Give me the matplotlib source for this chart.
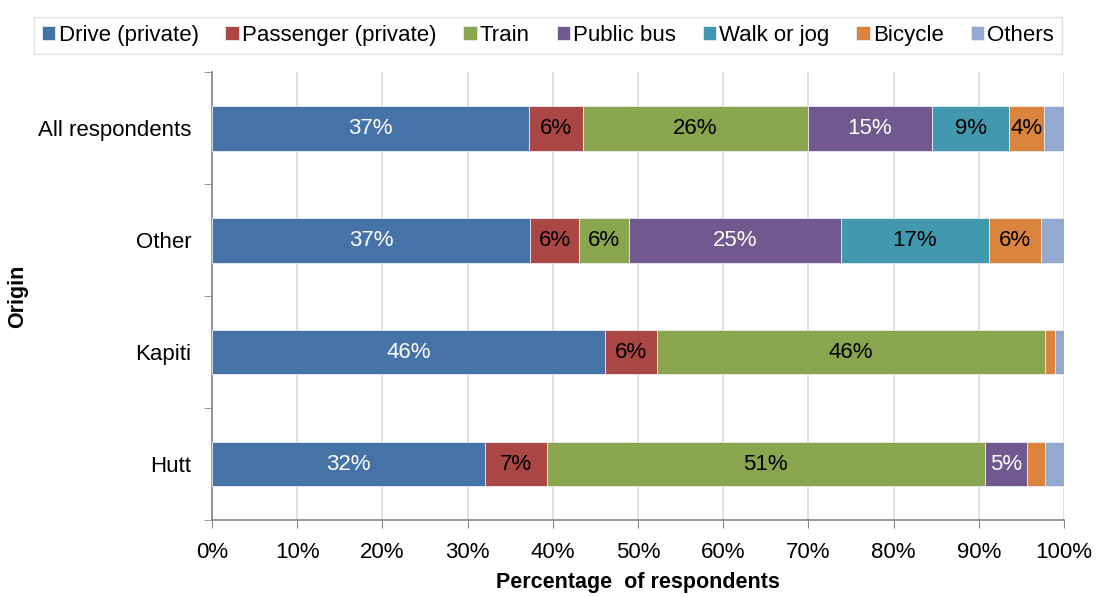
import matplotlib.pyplot as plt
import numpy as np

plt.rcParams['font.family'] = ['Liberation Sans', 'DejaVu Sans']

# Data (percent of respondents)
origins = ["All respondents", "Other", "Kapiti", "Hutt"]
modes = ["Drive (private)", "Passenger (private)", "Train", "Public bus",
         "Walk or jog", "Bicycle", "Others"]
drive = [37.2, 37.3, 46.1, 32.1]
passenger = [6.3, 5.8, 6.1, 7.2]
train = [26.4, 5.8, 45.6, 51.4]
bus = [14.6, 24.9, 0.0, 4.9]
walk = [9.1, 17.4, 0.0, 0.0]
bicycle = [4.1, 6.1, 1.1, 2.2]
others = [2.3, 2.7, 1.1, 2.2]

series = [drive, passenger, train, bus, walk, bicycle, others]
colors = ["#4572A7", "#AA4643", "#89A54E", "#71588F", "#4198AF", "#DB843D", "#93A9CF"]
label_colors = ["white", "black", "black", "white", "black", "black", "black"]

fig = plt.figure(figsize=(10.96, 5.97), dpi=100)
ax = fig.add_axes([0.1934, 0.129, 0.7774, 0.75])

y = np.arange(len(origins))
left = np.zeros(len(origins))
for name, vals, col, lc in zip(modes, series, colors, label_colors):
    vals = np.array(vals)
    ax.barh(y, vals, left=left, height=0.4, color=col, edgecolor="#e8ecf2",
            linewidth=0.6, label=name, zorder=3)
    for yi, v, l in zip(y, vals, left):
        if v >= 3.5:
            ax.text(l + v / 2, yi, f"{int(v + 0.5)}%", ha="center", va="center",
                    color=lc, fontsize=16, zorder=4)
    left += vals

ax.set_xlim(0, 100)
ax.set_ylim(3.5, -0.5)
ax.set_xticks(np.arange(0, 101, 10))
ax.set_xticklabels([f"{t}%" for t in range(0, 101, 10)], fontsize=16)
ax.set_yticks(y)
ax.set_yticklabels(origins, fontsize=16)
ax.set_yticks(np.arange(-0.5, 4.0, 1.0), minor=True)
ax.tick_params(axis="y", which="major", length=0, pad=15)
ax.tick_params(axis="y", which="minor", length=6, color="#868686")
ax.tick_params(axis="x", length=6, color="#868686", pad=10)

ax.grid(axis="x", color="#D9D9D9", linewidth=1.2, zorder=0)
for s in ["top", "right"]:
    ax.spines[s].set_visible(False)
for s in ["left", "bottom"]:
    ax.spines[s].set_color("#868686")
    ax.spines[s].set_linewidth(1.2)

ax.set_xlabel("Percentage  of respondents", fontsize=15.5, fontweight="bold", labelpad=6)
ax.set_ylabel("Origin", fontsize=15.5, fontweight="bold")
ax.yaxis.set_label_coords(-0.216, 0.5)

leg = fig.legend(loc="upper center", bbox_to_anchor=(0.5, 0.99), ncol=7, fontsize=16,
                 frameon=True, fancybox=False, edgecolor="#D9D9D9",
                 handlelength=0.6, handleheight=0.6, handletextpad=0.15,
                 columnspacing=1.2, borderpad=0.35)

fig.savefig("out.png", dpi=100)
